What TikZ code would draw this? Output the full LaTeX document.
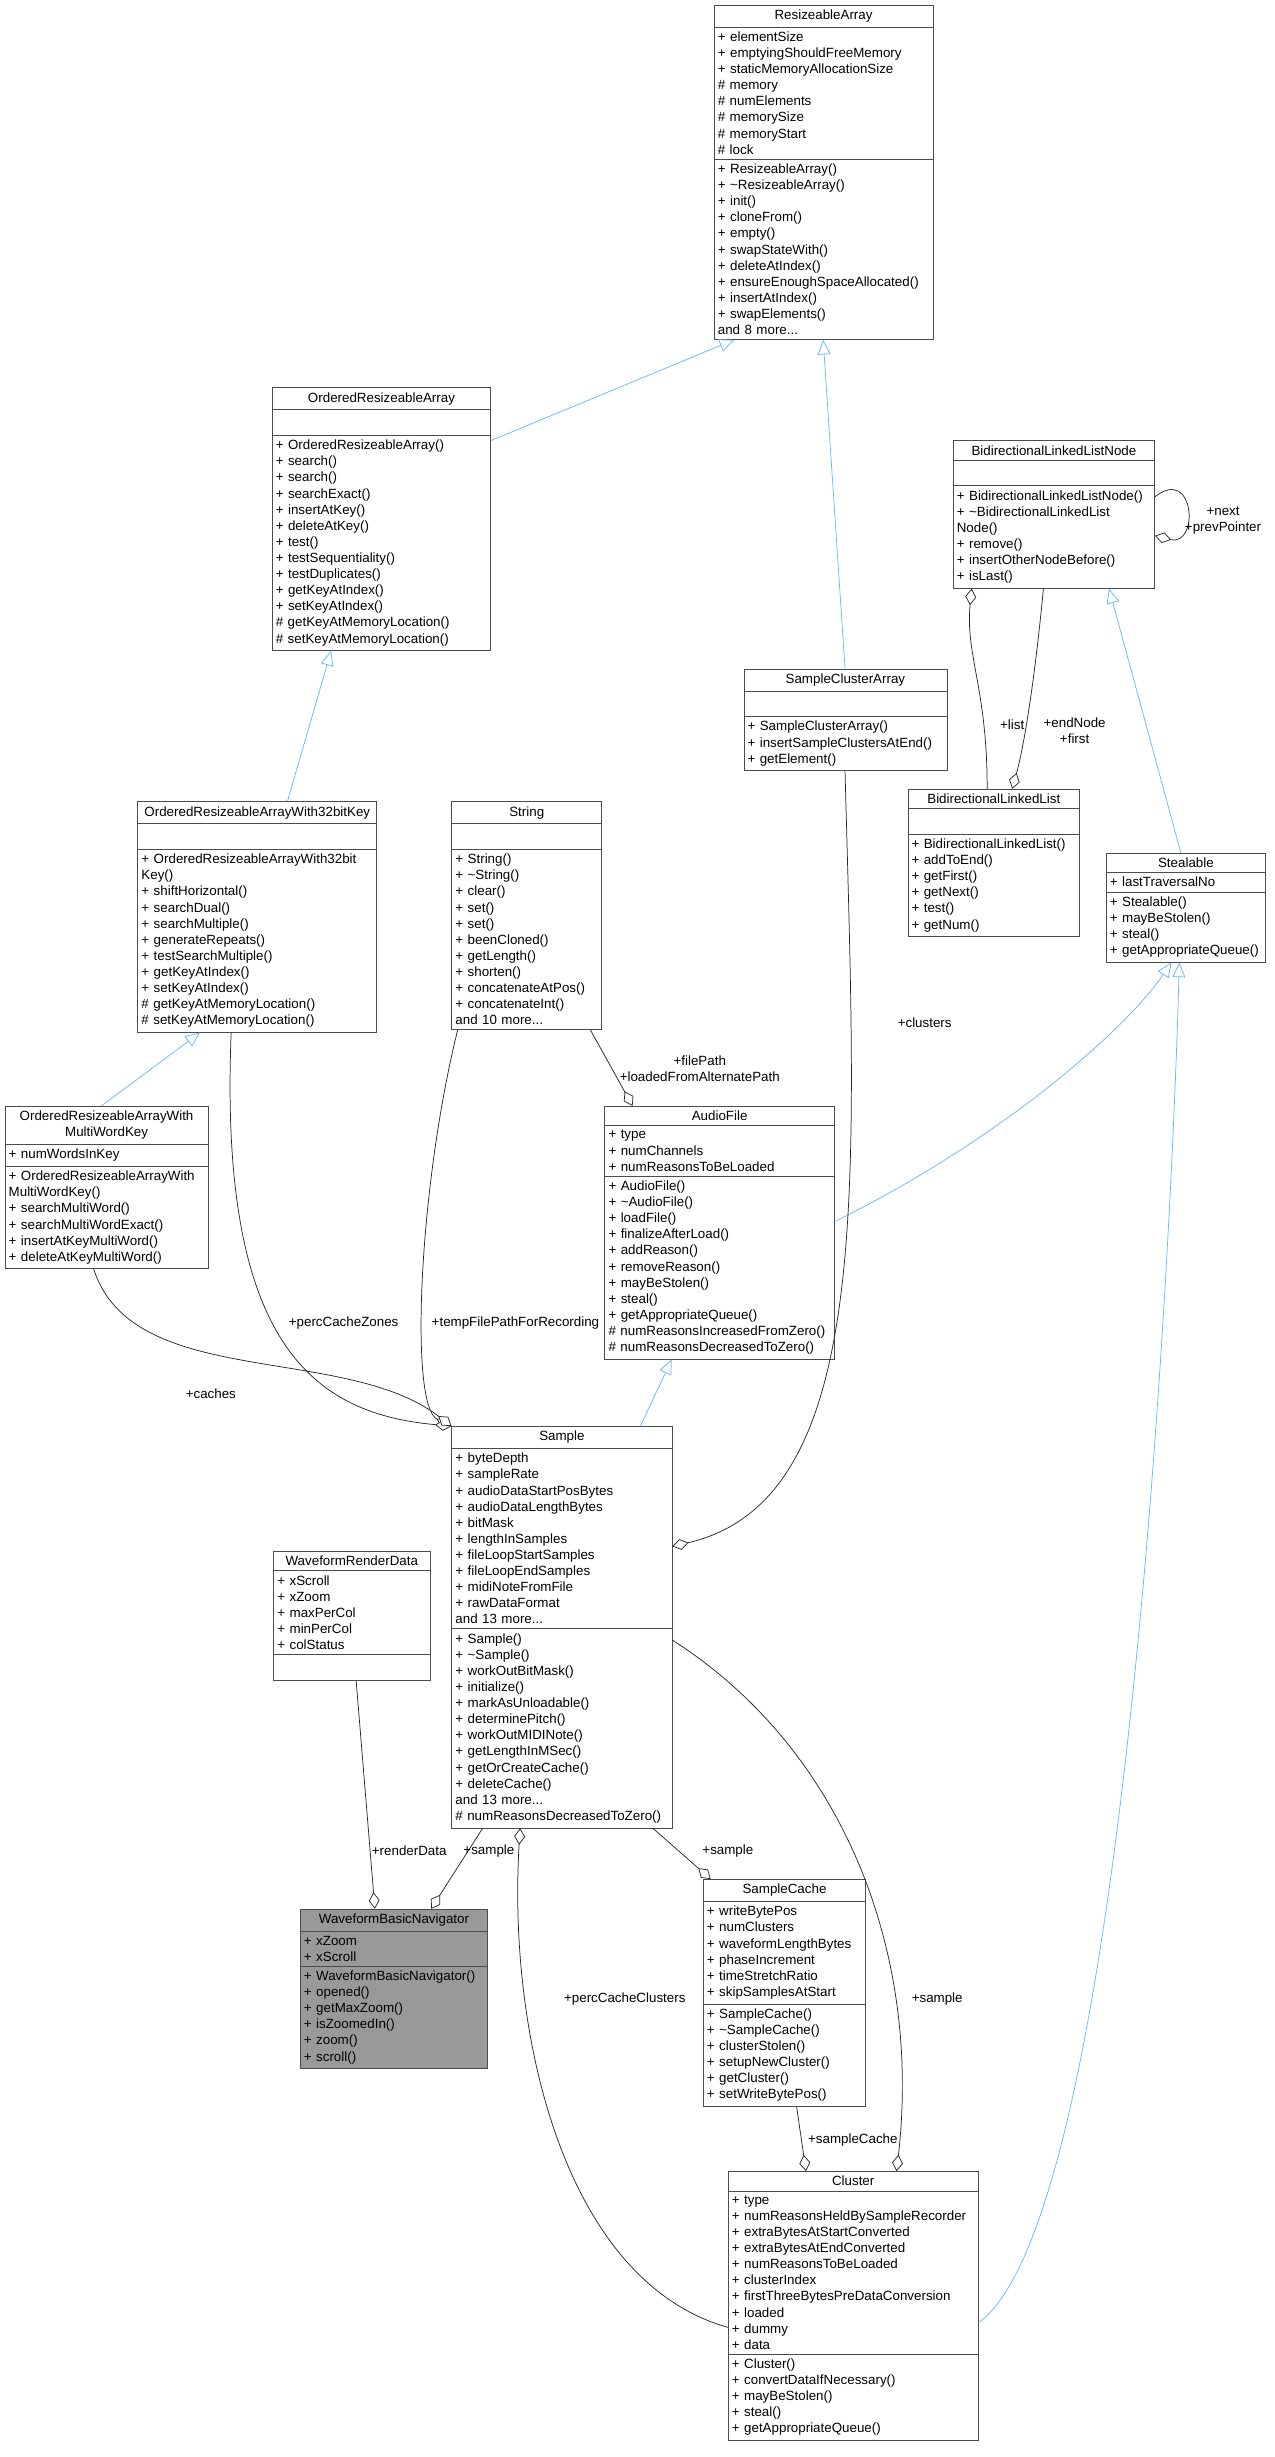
\documentclass[tikz,border=0pt]{standalone}
\usepackage{fontspec}
\setmainfont{Liberation Sans}
\usetikzlibrary{positioning,arrows.meta,shapes.multipart}

\begin{document}
\begin{tikzpicture}[x=0.03cm,y=-0.03cm,
        cls/.style={rectangle split, rectangle split parts=3, draw=black!70, fill=white, anchor=north west, align=left, font=\fontsize{7.3}{8.8}\selectfont, inner xsep=2pt, inner ysep=2.4pt},
        bw/.style={text width={#1*0.03cm-4pt}},
        nav/.style={cls, fill=black!40},
        inh/.style={draw={rgb,255:red,99;green,184;blue,255}, -{Triangle[open,length=8pt,width=7pt,fill=white]}},
        agg/.style={draw=black!85, -{Diamond[open,length=9pt,width=6pt,fill=white]}},
        lbl/.style={font=\fontsize{7.3}{8.8}\selectfont, align=center}
    ]
    \useasboundingbox (0,0) rectangle (816,1573);

    \node[cls,bw=140] (ra) at (457,3) {\centering ResizeableArray\par
        \nodepart{two} + elementSize\\+ emptyingShouldFreeMemory\\+ staticMemoryAllocationSize\\\# memory\\\# numElements\\\# memorySize\\\# memoryStart\\\# lock
        \nodepart{three} + ResizeableArray()\\+ \textasciitilde ResizeableArray()\\+ init()\\+ cloneFrom()\\+ empty()\\+ swapStateWith()\\+ deleteAtIndex()\\+ ensureEnoughSpaceAllocated()\\+ insertAtIndex()\\+ swapElements()\\and 8 more...};
    \node[cls,bw=140] (ora) at (174,248) {\centering OrderedResizeableArray\par
        \nodepart{two}\strut
        \nodepart{three} + OrderedResizeableArray()\\+ search()\\+ search()\\+ searchExact()\\+ insertAtKey()\\+ deleteAtKey()\\+ test()\\+ testSequentiality()\\+ testDuplicates()\\+ getKeyAtIndex()\\+ setKeyAtIndex()\\\# getKeyAtMemoryLocation()\\\# setKeyAtMemoryLocation()};
    \node[cls,bw=153] (o32) at (88,513) {\centering OrderedResizeableArrayWith32bitKey\par
        \nodepart{two}\strut
        \nodepart{three} + OrderedResizeableArrayWith32bit\\Key()\\+ shiftHorizontal()\\+ searchDual()\\+ searchMultiple()\\+ generateRepeats()\\+ testSearchMultiple()\\+ getKeyAtIndex()\\+ setKeyAtIndex()\\\# getKeyAtMemoryLocation()\\\# setKeyAtMemoryLocation()};
    \node[cls,bw=130] (omw) at (3,708) {\centering OrderedResizeableArrayWith\\MultiWordKey\par
        \nodepart{two} + numWordsInKey
        \nodepart{three} + OrderedResizeableArrayWith\\MultiWordKey()\\+ searchMultiWord()\\+ searchMultiWordExact()\\+ insertAtKeyMultiWord()\\+ deleteAtKeyMultiWord()};
    \node[cls,bw=96] (str) at (289,513) {\centering String\par
        \nodepart{two}\strut
        \nodepart{three} + String()\\+ \textasciitilde String()\\+ clear()\\+ set()\\+ set()\\+ beenCloned()\\+ getLength()\\+ shorten()\\+ concatenateAtPos()\\+ concatenateInt()\\and 10 more...};
    \node[cls,bw=130] (sca) at (476,428) {\centering SampleClusterArray\par
        \nodepart{two}\strut
        \nodepart{three} + SampleClusterArray()\\+ insertSampleClustersAtEnd()\\+ getElement()};
    \node[cls,bw=129] (bln) at (610,282) {\centering BidirectionalLinkedListNode\par
        \nodepart{two}\strut
        \nodepart{three} + BidirectionalLinkedListNode()\\+ \textasciitilde BidirectionalLinkedList\\Node()\\+ remove()\\+ insertOtherNodeBefore()\\+ isLast()};
    \node[cls,bw=110] (bll) at (581,505) {\centering BidirectionalLinkedList\par
        \nodepart{two}\strut
        \nodepart{three} + BidirectionalLinkedList()\\+ addToEnd()\\+ getFirst()\\+ getNext()\\+ test()\\+ getNum()};
    \node[cls,bw=102] (st) at (708,546) {\centering Stealable\par
        \nodepart{two} + lastTraversalNo
        \nodepart{three} + Stealable()\\+ mayBeStolen()\\+ steal()\\+ getAppropriateQueue()};
    \node[cls,bw=147] (af) at (387,708) {\centering AudioFile\par
        \nodepart{two} + type\\+ numChannels\\+ numReasonsToBeLoaded
        \nodepart{three} + AudioFile()\\+ \textasciitilde AudioFile()\\+ loadFile()\\+ finalizeAfterLoad()\\+ addReason()\\+ removeReason()\\+ mayBeStolen()\\+ steal()\\+ getAppropriateQueue()\\\# numReasonsIncreasedFromZero()\\\# numReasonsDecreasedToZero()};
    \node[cls,bw=141] (sm) at (289,913) {\centering Sample\par
        \nodepart{two} + byteDepth\\+ sampleRate\\+ audioDataStartPosBytes\\+ audioDataLengthBytes\\+ bitMask\\+ lengthInSamples\\+ fileLoopStartSamples\\+ fileLoopEndSamples\\+ midiNoteFromFile\\+ rawDataFormat\\and 13 more...
        \nodepart{three} + Sample()\\+ \textasciitilde Sample()\\+ workOutBitMask()\\+ initialize()\\+ markAsUnloadable()\\+ determinePitch()\\+ workOutMIDINote()\\+ getLengthInMSec()\\+ getOrCreateCache()\\+ deleteCache()\\and 13 more...\\\# numReasonsDecreasedToZero()};
    \node[cls,bw=100] (wrd) at (175,993) {\centering WaveformRenderData\par
        \nodepart{two} + xScroll\\+ xZoom\\+ maxPerCol\\+ minPerCol\\+ colStatus
        \nodepart{three}\strut};
    \node[nav,bw=120] (nav) at (192,1222) {\centering WaveformBasicNavigator\par
        \nodepart{two} + xZoom\\+ xScroll
        \nodepart{three} + WaveformBasicNavigator()\\+ opened()\\+ getMaxZoom()\\+ isZoomedIn()\\+ zoom()\\+ scroll()};
    \node[cls,bw=104] (sc) at (450,1203) {\centering SampleCache\par
        \nodepart{two} + writeBytePos\\+ numClusters\\+ waveformLengthBytes\\+ phaseIncrement\\+ timeStretchRatio\\+ skipSamplesAtStart
        \nodepart{three} + SampleCache()\\+ \textasciitilde SampleCache()\\+ clusterStolen()\\+ setupNewCluster()\\+ getCluster()\\+ setWriteBytePos()};
    \node[cls,bw=160] (cl) at (466,1390) {\centering Cluster\par
        \nodepart{two} + type\\+ numReasonsHeldBySampleRecorder\\+ extraBytesAtStartConverted\\+ extraBytesAtEndConverted\\+ numReasonsToBeLoaded\\+ clusterIndex\\+ firstThreeBytesPreDataConversion\\+ loaded\\+ dummy\\+ data
        \nodepart{three} + Cluster()\\+ convertDataIfNecessary()\\+ mayBeStolen()\\+ steal()\\+ getAppropriateQueue()};

    % inheritance
    \draw[inh] (ora.east |- 0,282) -- (ra.south -| 470,0);
    \draw[inh] (sca.north -| 541,0) -- (ra.south -| 527,0);
    \draw[inh] (o32.north -| 184,0) -- (ora.south -| 212,0);
    \draw[inh] (omw.north -| 65,0) -- (o32.south -| 128,0);
    \draw[inh] (st.north -| 756,0) -- (bln.south -| 710,0);
    \draw[inh] (af.east |- 0,782) .. controls (640,730) and (720,660) .. (st.south -| 750,0);
    \draw[inh] (cl.east |- 0,1487) .. controls (720,1420) and (750,800) .. (st.south -| 755,0);
    \draw[inh] (sm.north -| 410,0) -- (af.south -| 430,0);

    % members
    \draw[agg] (bln.east |- 0,318) .. controls (765,298) and (768,350) .. (bln.east |- 0,343);
    \node[lbl] (lnext) at (783,333) {+next\\+prevPointer};
    \draw[agg] (bll.north -| 632,0) .. controls (632,440) and (618,420) .. (bln.south -| 622,0);
    \node[lbl] (llist) at (648,464) {+list};
    \draw[agg] (bln.south -| 668,0) .. controls (662,440) and (655,480) .. (bll.north -| 648,0);
    \node[lbl] (lend) at (688,468) {+endNode\\+first};
    \draw[agg] (str.south -| 378,0) -- (af.north -| 405,0);
    \node[lbl] (lpath) at (448,684) {+filePath\\+loadedFromAlternatePath};
    \draw[agg] (str.south -| 293,0) .. controls (268,760) and (262,900) .. (sm.north west);
    \node[lbl] (ltemp) at (330,847) {+tempFilePathForRecording};
    \draw[agg] (o32.south -| 148,0) .. controls (140,860) and (200,905) .. (sm.north west);
    \node[lbl] (lzones) at (220,847) {+percCacheZones};
    \draw[agg] (omw.south -| 60,0) .. controls (85,890) and (220,860) .. (sm.north west);
    \node[lbl] (lcaches) at (135,892) {+caches};
    \draw[agg] (sca.south -| 541,0) .. controls (548,760) and (560,960) .. (sm.east |- 0,990);
    \node[lbl] (lclusters) at (592,655) {+clusters};
    \draw[agg] (wrd.south -| 228,0) -- (nav.north -| 240,0);
    \node[lbl] (lrender) at (262,1185) {+renderData};
    \draw[agg] (sm.south -| 309,0) -- (nav.north -| 276,0);
    \node[lbl] (lsample1) at (313,1185) {+sample};
    \draw[agg] (sm.south -| 418,0) -- (sc.north -| 455,0);
    \node[lbl] (lsample2) at (466,1185) {+sample};
    \draw[agg] (sc.south -| 510,0) -- (cl.north -| 516,0);
    \node[lbl] (lcache) at (546,1370) {+sampleCache};
    \draw[agg] (sm.east |- 0,1050) .. controls (540,1120) and (590,1250) .. (cl.north -| 574,0);
    \node[lbl] (lsample3) at (600,1280) {+sample};
    \draw[agg] (cl.west |- 0,1490) .. controls (360,1460) and (325,1300) .. (sm.south -| 333,0);
    \node[lbl] (lperc) at (400,1280) {+percCacheClusters};
\end{tikzpicture}
\end{document}
